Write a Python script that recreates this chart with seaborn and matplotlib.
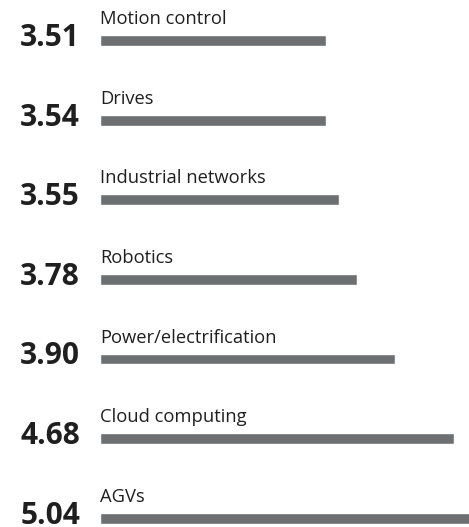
import numpy as np
import pandas as pd
import matplotlib
matplotlib.use("Agg")
import matplotlib.pyplot as plt
import seaborn as sns

categories = ["Motion control", "Drives", "Industrial networks", "Robotics",
              "Power/electrification", "Cloud computing", "AGVs"]
scores = [3.51, 3.54, 3.55, 3.78, 3.90, 4.68, 5.04]
# bar lengths as drawn in the picture (arbitrary units, not proportional to the score)
bar_length = [226, 226, 239, 257, 295, 354, 372]

df = pd.DataFrame({"category": categories, "score": scores, "length": bar_length})

sns.set_theme(style="white")
plt.rcParams["font.family"] = ["Open Sans", "DejaVu Sans"]

BAR = "#6d7073"
INK = "#1f1f1f"

fig = plt.figure(figsize=(4.69, 5.27), dpi=100)
ax = fig.add_axes([100 / 469, 0, 369 / 469, 1])
sns.barplot(data=df, y="category", x="length", order=categories, color=BAR,
            orient="h", width=0.138, saturation=1, ax=ax)
ax.set_xlim(0, 369)
ax.set_ylim(6.11, -0.509)
ax.axis("off")

for i, (cat, sc) in enumerate(zip(categories, scores)):
    ax.text(0, i - 0.207, cat, ha="left", va="baseline", fontsize=13.2,
            color=INK, clip_on=False)
    ax.text(-20, i + 0.069, f"{sc:.2f}", ha="right", va="baseline", fontsize=21.5,
            fontweight="bold", color=INK, clip_on=False)

fig.savefig("out.png", dpi=100)
